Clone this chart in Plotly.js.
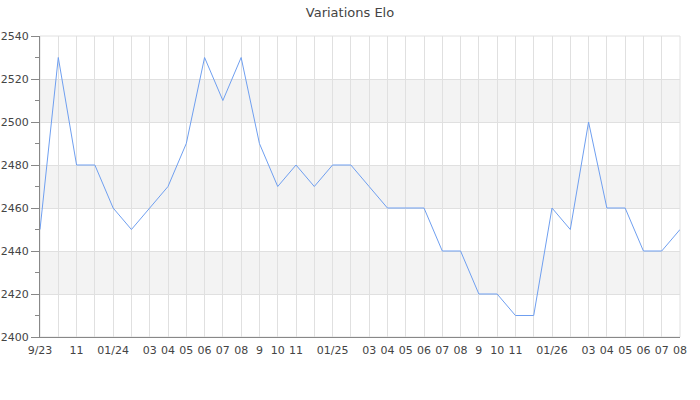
<!DOCTYPE html>
<html>
<head>
<meta charset="utf-8">
<script src="https://cdn.plot.ly/plotly-3.0.1.min.js"></script>
<style>
  html, body { margin: 0; padding: 0; background: #fff; }
  #chart { width: 700px; height: 400px; }
</style>
</head>
<body>
<div id="chart"></div>
<script>
// one point per month, Sept 2023 to Aug 2026
var months = ['2023-09', '2023-10', '2023-11', '2023-12',
    '2024-01', '2024-02', '2024-03', '2024-04', '2024-05', '2024-06',
    '2024-07', '2024-08', '2024-09', '2024-10', '2024-11', '2024-12',
    '2025-01', '2025-02', '2025-03', '2025-04', '2025-05', '2025-06',
    '2025-07', '2025-08', '2025-09', '2025-10', '2025-11', '2025-12',
    '2026-01', '2026-02', '2026-03', '2026-04', '2026-05', '2026-06',
    '2026-07', '2026-08'];
var elo = [2450, 2530, 2480, 2480,
    2460, 2450, 2460, 2470, 2490, 2530,
    2510, 2530, 2490, 2470, 2480, 2470,
    2480, 2480, 2470, 2460, 2460, 2460,
    2440, 2440, 2420, 2420, 2410, 2410,
    2460, 2450, 2500, 2460, 2460, 2440,
    2440, 2450];
var tickLabels = ['9/23', '', '11', '',
    '01/24', '', '03', '04', '05', '06',
    '07', '08', '9', '10', '11', '',
    '01/25', '', '03', '04', '05', '06',
    '07', '08', '9', '10', '11', '',
    '01/26', '', '03', '04', '05', '06',
    '07', '08'];
// shaded horizontal bands
var bandsFrom = [2420, 2460, 2500];
var bandsTo = [2440, 2480, 2520];

// months are evenly spaced, so plot them by their index
var idx = months.map(function (m, i) { return i; });

var shapes = [];
for (var i = 0; i < bandsFrom.length; i++) {
    shapes.push({
        type: 'rect', layer: 'below',
        xref: 'paper', x0: 0, x1: 1,
        yref: 'y', y0: bandsFrom[i], y1: bandsTo[i],
        fillcolor: '#f3f3f3', line: {width: 0}
    });
}
// light frame on top and right, like the grid
shapes.push({
    type: 'rect', layer: 'below',
    xref: 'paper', x0: 0, x1: 1,
    yref: 'paper', y0: 0, y1: 1,
    line: {color: '#e0e0e0', width: 1}
});

var trace = {
    x: idx,
    y: elo,
    text: months,
    mode: 'lines',
    type: 'scatter',
    line: {color: '#6f9ff0', width: 1},
    hoverinfo: 'text+y'
};

var layout = {
    width: 700,
    height: 400,
    margin: {l: 40, r: 20, t: 36, b: 63},
    paper_bgcolor: '#fff',
    plot_bgcolor: 'rgba(0,0,0,0)',
    font: {family: 'DejaVu Sans', size: 11, color: '#444'},
    title: {
        text: 'Variations Elo',
        font: {family: 'DejaVu Sans', size: 13, color: '#444'},
        x: 0.5, xanchor: 'center',
        y: 0.97, yanchor: 'middle'
    },
    showlegend: false,
    shapes: shapes,
    xaxis: {
        type: 'linear',
        range: [0, months.length - 1],
        tickmode: 'array',
        tickvals: idx,
        ticktext: tickLabels,
        tickangle: 0,
        ticks: 'outside',
        ticklen: 3,
        tickcolor: 'rgba(0,0,0,0)',
        showgrid: true,
        gridcolor: '#e0e0e0',
        showline: true,
        linecolor: '#888',
        linewidth: 1,
        zeroline: false,
        tickfont: {size: 11, color: '#444'}
    },
    yaxis: {
        range: [2400, 2540],
        dtick: 20,
        ticks: 'outside',
        ticklen: 8,
        tickcolor: '#888',
        showgrid: true,
        gridcolor: '#e0e0e0',
        showline: true,
        linecolor: '#888',
        linewidth: 1,
        zeroline: false,
        minor: {dtick: 10, ticks: 'outside', ticklen: 4, tickcolor: '#888', showgrid: false},
        tickfont: {size: 11, color: '#444'}
    }
};

Plotly.newPlot('chart', [trace], layout, {displayModeBar: false, staticPlot: true});
</script>
</body>
</html>
